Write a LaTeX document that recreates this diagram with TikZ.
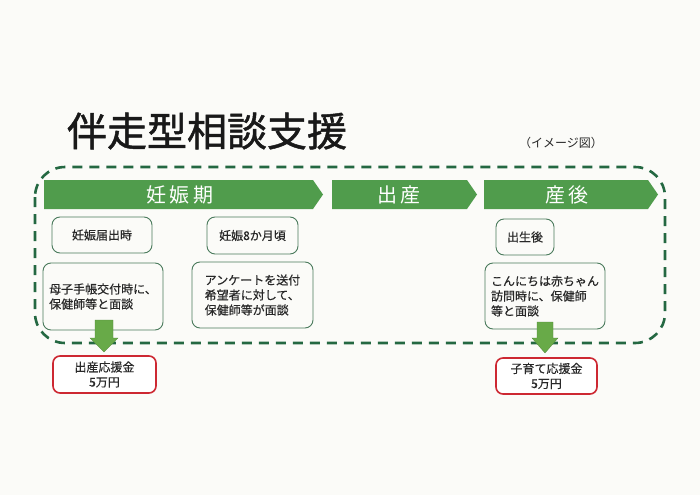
\documentclass[tikz,border=0pt]{standalone}
\usepackage{fontspec}
\setmainfont{Noto Sans CJK JP}
\newfontfamily\titlefont[FakeBold=1.2]{Noto Sans CJK JP}
\newfontfamily\boxfont[FakeBold=0.4]{Noto Sans CJK JP}
\definecolor{bgc}{RGB}{251,251,248}
\definecolor{barg}{RGB}{80,156,76}
\definecolor{dashg}{RGB}{36,104,66}
\definecolor{boxg}{RGB}{74,122,92}
\definecolor{arrg}{RGB}{104,170,72}
\definecolor{redb}{RGB}{205,40,50}
\definecolor{txt}{RGB}{40,40,40}
\tikzset{
  bartext/.style={text=white,font=\fontsize{20}{22}\selectfont},
  barfill/.style={fill=barg},
  stagebox/.style={draw=boxg,line width=0.9pt,rounded corners=8pt,fill=bgc,text=txt,font=\boxfont\fontsize{12}{15}\selectfont,inner sep=0pt},
  moneybox/.style={draw=redb,line width=1.6pt,rounded corners=7pt,fill=white,text=txt,font=\boxfont\fontsize{12}{15}\selectfont,align=center,inner sep=0pt},
  downarrow/.style={fill=arrg,draw=arrg!80!black,line width=0.3pt},
  dashframe/.style={draw=dashg,line width=2.6pt,dash pattern=on 10pt off 7pt,rounded corners=30pt}
}
\begin{document}
\begin{tikzpicture}[x=1pt,y=-1pt]
\fill[bgc] (0,0) rectangle (700,495);
\useasboundingbox (0,0) rectangle (700,495);
% title
\node[text=black!90,font=\titlefont\fontsize{40}{44}\selectfont,inner sep=0pt] (title) at (207,131) {伴走型相談支援};
\node[text=txt,font=\fontsize{12}{14}\selectfont,inner sep=0pt] (img) at (561,143) {（イメージ図）};
% dashed frame
\draw[dashframe] (35,167) rectangle (665,343);
% bars
\fill[barfill] (44,180) -- (313,180) -- (323,194.5) -- (313,209) -- (44,209) -- cycle;
\fill[barfill] (332,180) -- (467,180) -- (477,194.5) -- (467,209) -- (332,209) -- cycle;
\fill[barfill] (484,180) -- (648,180) -- (658,194.5) -- (648,209) -- (484,209) -- cycle;
\node[bartext] (p1) at (180,194.5) {妊\,娠\,期};
\node[bartext] (p2) at (399,194.5) {出\,産};
\node[bartext] (p3) at (567,194.5) {産\,後};
% boxes
\node[stagebox,minimum width=100pt,minimum height=36pt] (b1) at (102,235) {妊娠届出時};
\node[stagebox,minimum width=91pt,minimum height=37pt] (b2) at (252.5,235.5) {妊娠8か月頃};
\node[stagebox,minimum width=58pt,minimum height=36pt] (b5) at (525,237) {出生後};
\node[stagebox,minimum width=120pt,minimum height=67pt,align=left] (b3) at (103,296.5) {母子手帳交付時に、\\保健師等と面談};
\node[stagebox,minimum width=121pt,minimum height=66pt,align=left] (b4) at (252.5,295) {アンケートを送付\\希望者に対して、\\保健師等が面談};
\node[stagebox,minimum width=120pt,minimum height=66pt,align=left] (b6) at (545,296) {こんにちは赤ちゃん\\訪問時に、保健師\\等と面談};
% money boxes
\node[moneybox,minimum width=103pt,minimum height=37pt] (r1) at (104.5,374.5) {出産応援金\\5万円};
\node[moneybox,minimum width=101pt,minimum height=36pt] (r2) at (546.5,376) {子育て応援金\\5万円};
% arrows
\coordinate (a1) at (104,320);
\coordinate (a2) at (545,322);
\fill[downarrow] ([xshift=-9pt]a1) -- ([xshift=9pt]a1) -- ([xshift=9pt,yshift=-18pt]a1) -- ([xshift=14pt,yshift=-18pt]a1) -- ([yshift=-32pt]a1) -- ([xshift=-14pt,yshift=-18pt]a1) -- ([xshift=-9pt,yshift=-18pt]a1) -- cycle;
\fill[downarrow] ([xshift=-8pt]a2) -- ([xshift=8pt]a2) -- ([xshift=8pt,yshift=-16pt]a2) -- ([xshift=13pt,yshift=-16pt]a2) -- ([yshift=-31pt]a2) -- ([xshift=-13pt,yshift=-16pt]a2) -- ([xshift=-8pt,yshift=-16pt]a2) -- cycle;
\end{tikzpicture}
\end{document}
